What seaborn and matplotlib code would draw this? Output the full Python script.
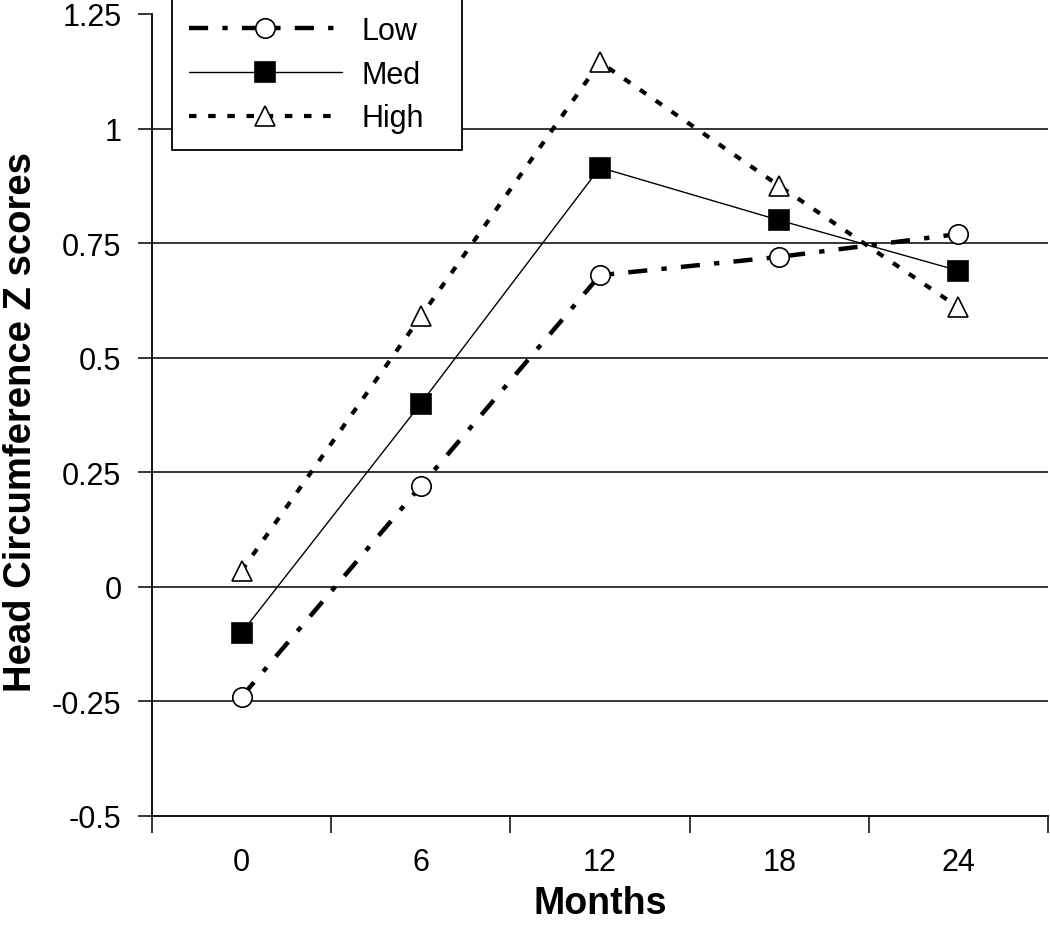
import numpy as np
import pandas as pd
import matplotlib
matplotlib.use("Agg")
import matplotlib.pyplot as plt
import seaborn as sns

# data
months = [0, 6, 12, 18, 24]
low = [-0.24, 0.22, 0.68, 0.72, 0.77]
med = [-0.10, 0.40, 0.915, 0.80, 0.69]
high = [0.035, 0.59, 1.145, 0.875, 0.61]
groups = ["Low", "Med", "High"]
y_ticks = [-0.5, -0.25, 0, 0.25, 0.5, 0.75, 1, 1.25]
y_tick_labels = ["-0.5", "-0.25", "0", "0.25", "0.5", "0.75", "1", "1.25"]

df = pd.DataFrame({
    "Months": months * 3,
    "Z": low + med + high,
    "Group": [g for g in groups for _ in months],
})

sns.set_theme(style="white", rc={"text.color": "black", "axes.labelcolor": "black",
                                 "xtick.color": "black", "ytick.color": "black"})
plt.rcParams["font.family"] = ["Liberation Sans", "DejaVu Sans"]

fig = plt.figure(figsize=(10.5, 9.28), dpi=100)
ax = fig.add_axes([152 / 1050, 1 - 817 / 928, 896 / 1050, 802 / 928])

styles = {
    "Low": dict(linestyle=(0, (4.3, 3.2, 1.2, 3.2)), linewidth=3.2, marker="o",
                markersize=14, markerfacecolor="white"),
    "Med": dict(linestyle="-", linewidth=1.0, marker="s",
                markersize=14, markerfacecolor="black"),
    "High": dict(linestyle=(0, (1.8, 2.8)), linewidth=3.0, marker="^",
                 markersize=15, markerfacecolor="white"),
}

# horizontal reference lines drawn under the data
for lvl in y_ticks[1:-1]:
    ax.axhline(lvl, color="black", linewidth=1.1, zorder=0)

for g in groups:
    sub = df[df["Group"] == g]
    sns.lineplot(data=sub, x="Months", y="Z", ax=ax, color="black",
                 markeredgecolor="black", markeredgewidth=1.2,
                 label=g, **styles[g])

ax.set_xlim(-3, 27)
ax.set_ylim(-0.5, 1.25)
ax.set_xticks(months)
ax.set_xticklabels([str(m) for m in months], fontsize=22)
ax.set_xticks([m - 3 for m in months] + [27], minor=True)
ax.tick_params(axis="x", which="major", length=0, pad=22)
ax.tick_params(axis="x", which="minor", length=12, width=1.1, color="black",
               direction="out", bottom=True)
ax.set_yticks(y_ticks)
ax.set_yticklabels(y_tick_labels, fontsize=22)
ax.tick_params(axis="y", length=10, width=1.1, color="black", direction="out",
               left=True, pad=12)

for side in ["top", "right"]:
    ax.spines[side].set_visible(False)
for side in ["left", "bottom"]:
    ax.spines[side].set_color("black")
    ax.spines[side].set_linewidth(1.3)

ax.set_xlabel("Months", fontsize=27, fontweight="bold", labelpad=6)
ax.set_ylabel("Head Circumference Z scores", fontsize=27.5, fontweight="bold",
              labelpad=9)
ax.yaxis.label.set_y(0.493)

leg = ax.legend(loc="upper left", bbox_to_anchor=(172 / 1050, 0, 290 / 1050, 1.0),
                bbox_transform=fig.transFigure, borderaxespad=0, mode="expand",
                fontsize=22, handlelength=5.0, handletextpad=0.65,
                labelspacing=0.45, frameon=True, fancybox=False,
                borderpad=0.55, numpoints=1)
leg.get_frame().set_edgecolor("black")
leg.get_frame().set_linewidth(1.3)
leg.get_frame().set_alpha(1)

fig.savefig("out.png", dpi=100)
